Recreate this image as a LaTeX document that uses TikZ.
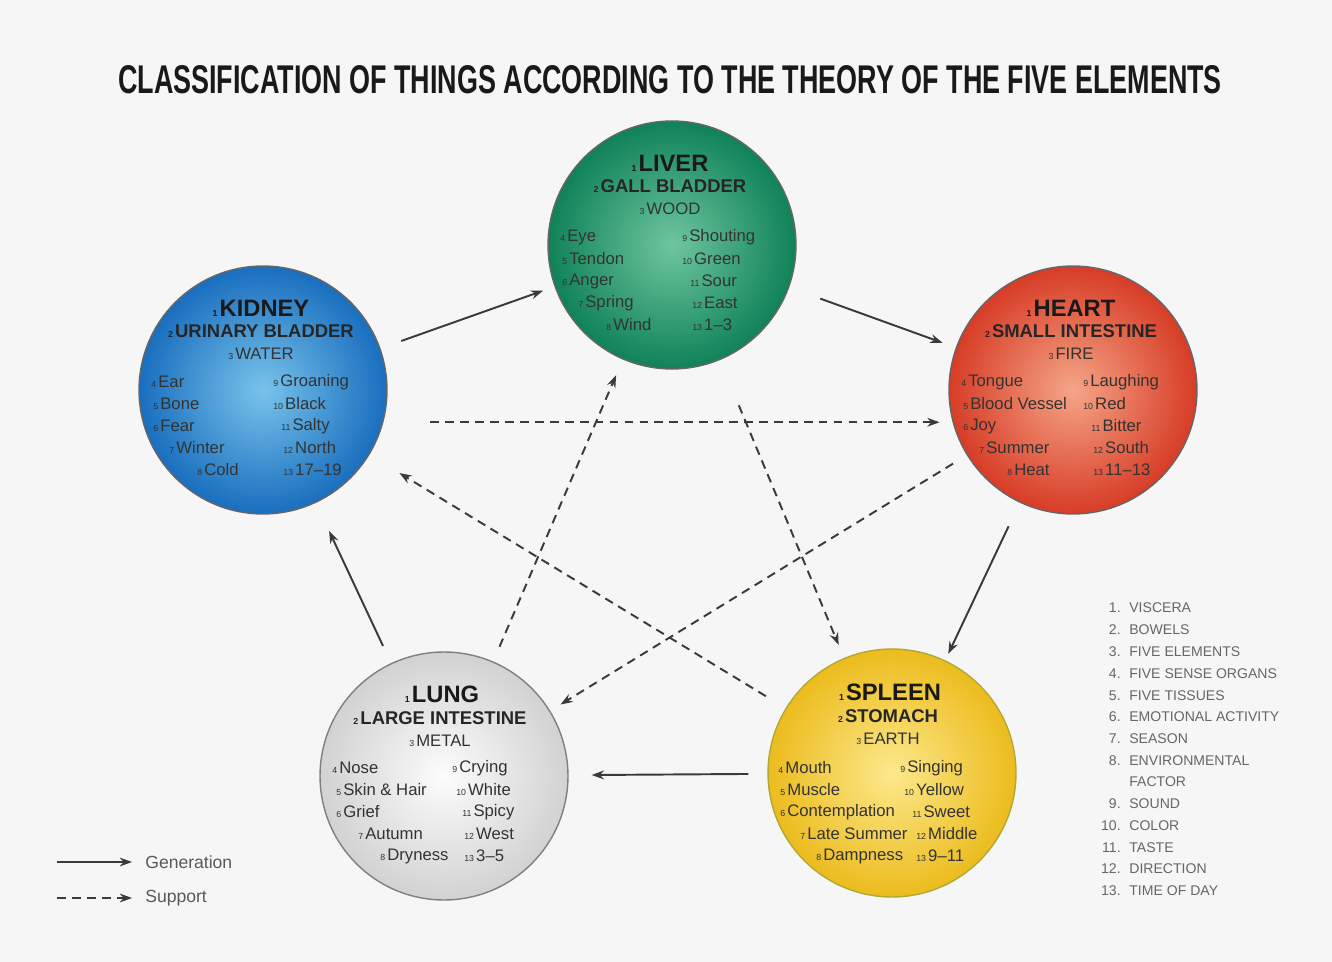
\documentclass[tikz,border=0pt]{standalone}
\usepackage{fontspec}
\setmainfont{Liberation Sans}
\usepackage{graphicx}
\usetikzlibrary{arrows.meta, calc}

\definecolor{bgcol}{HTML}{F6F6F6}
\definecolor{linecol}{HTML}{3A3A3A}
\definecolor{woodin}{RGB}{110,198,158}
\definecolor{woodout}{RGB}{16,130,88}
\definecolor{waterin}{RGB}{120,195,235}
\definecolor{waterout}{RGB}{25,110,190}
\definecolor{firein}{RGB}{245,165,135}
\definecolor{fireout}{RGB}{215,60,38}
\definecolor{metalin}{RGB}{252,252,252}
\definecolor{metalout}{RGB}{210,210,210}
\definecolor{earthin}{RGB}{252,232,140}
\definecolor{earthout}{RGB}{236,188,30}

% small index number in front of an entry
\newcommand{\mk}[1]{{\fontsize{5}{6}\selectfont#1}\kern1.2pt}

\begin{document}
\begin{tikzpicture}[x=0.02cm, y=-0.02cm, >={Stealth[length=7pt,width=5pt]},
    organ/.style={circle, draw=black!60, line width=0.8pt, minimum size=4.96cm, inner sep=0pt},
    orgtitle/.style={font=\fontsize{13.5}{15}\selectfont\bfseries, text=black!90, inner sep=0pt},
    orgsub/.style={font=\fontsize{10.5}{12}\selectfont\bfseries, text=black!85, inner sep=0pt},
    orgel/.style={font=\fontsize{9.5}{11}\selectfont, text=black!80, inner sep=0pt},
    item/.style={font=\fontsize{9.5}{11}\selectfont, text=black!80, anchor=west, inner sep=0pt},
    gen/.style={->, draw=linecol, line width=1.1pt},
    support/.style={->, draw=linecol, line width=1.1pt, dash pattern=on 5pt off 3.5pt},
    listnum/.style={font=\fontsize{8}{9}\selectfont, text=black!60, anchor=east, inner sep=0pt},
    listtxt/.style={font=\fontsize{8}{9}\selectfont, text=black!60, anchor=west, inner sep=0pt},
    legtxt/.style={font=\fontsize{10}{12}\selectfont, text=black!65, anchor=west, inner sep=0pt}]

    % background
    \useasboundingbox (0,0) rectangle (1332,962);
    \fill[bgcol] (0,0) rectangle (1332,962);

    % title
    \node[inner sep=0pt, text=black!90] (title) at (670,80)
        {\resizebox{22.08cm}{0.56cm}{\bfseries CLASSIFICATION OF THINGS ACCORDING TO THE THEORY OF THE FIVE ELEMENTS}};

    % Liver
    \begin{scope}[shift={(672,245)}]
        \node[organ, inner color=woodin, outer color=woodout] (liver) at (0,0) {};
        \node[orgtitle] (liverT) at (-2,-82) {\mk{1}LIVER};
        \node[orgsub] (liverS) at (-2,-59) {\mk{2}GALL BLADDER};
        \node[orgel] (liverE) at (-2,-36) {\mk{3}WOOD};
        \foreach \txt/\dx [count=\k from 4] in {Eye/-112, Tendon/-110, Anger/-110, Spring/-94, Wind/-66}
            \node[item] (liverL\k) at (\dx,{-8+22*(\k-4)}) {\mk{\k}\txt};
        \foreach \txt/\dx [count=\k from 9] in {Shouting/10, Green/10, Sour/18, East/20, 1--3/20}
            \node[item] (liverR\k) at (\dx,{-8+22*(\k-9)}) {\mk{\k}\txt};
    \end{scope}

    % Kidney
    \begin{scope}[shift={(263,390)}]
        \node[organ, inner color=waterin, outer color=waterout] (kidney) at (0,0) {};
        \node[orgtitle] (kidneyT) at (-2,-82) {\mk{1}KIDNEY};
        \node[orgsub] (kidneyS) at (-2,-59) {\mk{2}URINARY BLADDER};
        \node[orgel] (kidneyE) at (-2,-36) {\mk{3}WATER};
        \foreach \txt/\dx [count=\k from 4] in {Ear/-112, Bone/-110, Fear/-110, Winter/-94, Cold/-66}
            \node[item] (kidneyL\k) at (\dx,{-8+22*(\k-4)}) {\mk{\k}\txt};
        \foreach \txt/\dx [count=\k from 9] in {Groaning/10, Black/10, Salty/18, North/20, 17--19/20}
            \node[item] (kidneyR\k) at (\dx,{-8+22*(\k-9)}) {\mk{\k}\txt};
    \end{scope}

    % Heart
    \begin{scope}[shift={(1073,390)}]
        \node[organ, inner color=firein, outer color=fireout] (heart) at (0,0) {};
        \node[orgtitle] (heartT) at (-2,-82) {\mk{1}HEART};
        \node[orgsub] (heartS) at (-2,-59) {\mk{2}SMALL INTESTINE};
        \node[orgel] (heartE) at (-2,-36) {\mk{3}FIRE};
        \foreach \txt/\dx [count=\k from 4] in {Tongue/-112, Blood Vessel/-110, Joy/-110, Summer/-94, Heat/-66}
            \node[item] (heartL\k) at (\dx,{-8+22*(\k-4)}) {\mk{\k}\txt};
        \foreach \txt/\dx [count=\k from 9] in {Laughing/10, Red/10, Bitter/18, South/20, 11--13/20}
            \node[item] (heartR\k) at (\dx,{-8+22*(\k-9)}) {\mk{\k}\txt};
    \end{scope}

    % Lung
    \begin{scope}[shift={(444,776)}]
        \node[organ, inner color=metalin, outer color=metalout, draw=black!50] (lung) at (0,0) {};
        \node[orgtitle] (lungT) at (-2,-82) {\mk{1}LUNG};
        \node[orgsub] (lungS) at (-4,-58) {\mk{2}LARGE INTESTINE};
        \node[orgel] (lungE) at (-4,-35) {\mk{3}METAL};
        \foreach \txt/\dx [count=\k from 4] in {Nose/-112, Skin \& Hair/-108, Grief/-108, Autumn/-86, Dryness/-64}
            \node[item] (lungL\k) at (\dx,{-8+22*(\k-4)}) {\mk{\k}\txt};
        \foreach \txt/\dx [count=\k from 9] in {Crying/8, White/12, Spicy/18, West/20, 3--5/20}
            \node[item] (lungR\k) at (\dx,{-8+22*(\k-9)}) {\mk{\k}\txt};
    \end{scope}

    % Spleen
    \begin{scope}[shift={(892,773)}]
        \node[organ, inner color=earthin, outer color=earthout, draw=olive!70] (spleen) at (0,0) {};
        \node[orgtitle] (spleenT) at (-2,-81) {\mk{1}SPLEEN};
        \node[orgsub] (spleenS) at (-4,-57) {\mk{2}STOMACH};
        \node[orgel] (spleenE) at (-4,-34) {\mk{3}EARTH};
        \foreach \txt/\dx [count=\k from 4] in {Mouth/-114, Muscle/-112, Contemplation/-112, Late Summer/-92, Dampness/-76}
            \node[item] (spleenL\k) at (\dx,{-5+22*(\k-4)}) {\mk{\k}\txt};
        \foreach \txt/\dx [count=\k from 9] in {Singing/8, Yellow/12, Sweet/20, Middle/24, 9--11/24}
            \node[item] (spleenR\k) at (\dx,{-5+22*(\k-9)}) {\mk{\k}\txt};
    \end{scope}

    % generation (solid)
    \draw[gen, shorten <=0.44cm, shorten >=0.24cm] (kidney) -- (liver);
    \draw[gen, shorten <=0.66cm, shorten >=0.28cm] (liver) -- (heart);
    \draw[gen, shorten <=0.52cm, shorten >=0.14cm] (heart) -- (spleen);
    \draw[gen, shorten <=0.38cm, shorten >=0.46cm] (spleen) -- (lung);
    \draw[gen, shorten <=0.38cm, shorten >=0.62cm] (lung) -- (kidney);

    % support (dashed)
    \draw[support, shorten <=0.94cm, shorten >=0.26cm] (kidney.-15) -- (heart.195);
    \draw[support, shorten <=0.32cm, shorten >=0.24cm] (heart) -- (lung);
    \draw[support, shorten <=0.32cm, shorten >=0.34cm] (lung) -- (liver);
    \draw[support, shorten <=0.98cm, shorten >=0.28cm] (liver) -- (spleen);
    \draw[support, shorten <=0.46cm, shorten >=0.70cm] (spleen) -- (kidney);

    % numbered key
    \foreach \n/\yy/\txt in {1/608/VISCERA, 2/630/BOWELS, 3/652/FIVE ELEMENTS, 4/674/FIVE SENSE ORGANS,
        5/696/FIVE TISSUES, 6/717/EMOTIONAL ACTIVITY, 7/739/SEASON, 8/761/ENVIRONMENTAL,
        9/804/SOUND, 10/826/COLOR, 11/848/TASTE, 12/869/DIRECTION, 13/891/TIME OF DAY} {
        \node[listnum] (num\n) at (1121,\yy) {\n.};
        \node[listtxt] (key\n) at (1129,\yy) {\txt};
    }
    \node[listtxt] (key8b) at (1129,782) {FACTOR};

    % legend
    \coordinate (genA) at (57,862);
    \coordinate (genB) at (132,862);
    \draw[gen, line width=0.9pt] (genA) -- (genB);
    \node[legtxt] (genL) at (145,862) {Generation};
    \coordinate (supA) at (57,898);
    \coordinate (supB) at (132,898);
    \draw[support, line width=0.9pt] (supA) -- (supB);
    \node[legtxt] (supL) at (145,898) {Support};
\end{tikzpicture}
\end{document}
